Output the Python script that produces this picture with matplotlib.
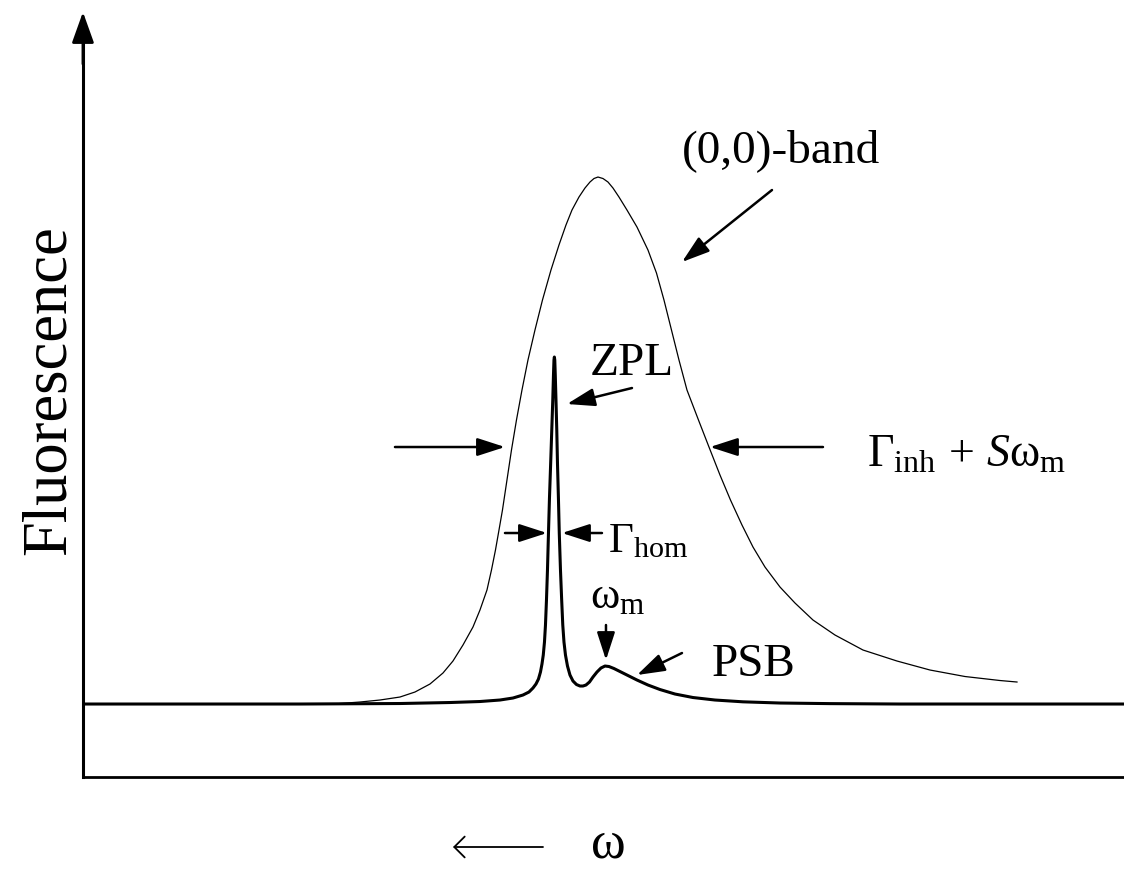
import matplotlib
matplotlib.use("Agg")
import matplotlib.pyplot as plt

plt.rcParams["font.family"] = ["Liberation Serif", "DejaVu Serif"]
plt.rcParams["mathtext.fontset"] = "custom"
plt.rcParams["mathtext.rm"] = "Liberation Serif"
plt.rcParams["mathtext.it"] = "Liberation Serif:italic"
plt.rcParams["mathtext.bf"] = "Liberation Serif:bold"

# Broad inhomogeneous (0,0)-band: frequency (arb. units) and intensity
band_freq = [25.7, 27.7, 29.7, 31.7, 33.2, 34.7, 36.0, 37.0, 38.0, 39.0,
             39.7, 40.4, 40.85, 41.25, 41.55, 41.95, 42.4, 42.85, 43.35, 43.9,
             44.5, 45.2, 45.95, 46.8, 47.6, 48.3, 48.9, 49.6, 50.2, 50.7,
             51.1, 51.5, 52.0, 52.5, 53.0, 53.6, 54.4, 55.4, 56.5, 57.35,
             58.1, 58.85, 59.6, 60.4, 61.55, 62.6, 63.7, 64.75, 65.9, 67.0,
             68.2, 69.7, 71.2, 73.0, 75.2, 78.0, 81.4, 84.7, 88.2, 91.7, 93.4]
band_int = [0.05, 0.2, 0.4, 0.7, 1.2, 2.0, 3.1, 4.3, 5.9, 7.7,
            9.4, 11.4, 13.4, 15.4, 17.1, 19.4, 22.4, 25.4, 28.4, 31.4,
            34.4, 37.4, 40.4, 43.4, 45.9, 47.9, 49.4, 50.7, 51.6, 52.2,
            52.55, 52.7, 52.55, 52.2, 51.6, 50.7, 49.4, 47.7, 45.4, 43.1,
            40.4, 37.4, 34.4, 31.4, 28.4, 25.7, 22.9, 20.4, 17.9, 15.7,
            13.7, 11.7, 10.1, 8.4, 6.9, 5.4, 4.3, 3.4, 2.75, 2.35, 2.2]

# Single-site spectrum: zero-phonon line plus phonon sideband
site_freq = [0.0, 21.7, 31.7, 36.7, 39.7, 41.7, 43.0, 44.0, 44.6, 45.0,
             45.3, 45.55, 45.75, 45.9, 46.03, 46.15, 46.25, 46.35, 46.45, 46.55,
             46.65, 46.77, 46.88, 46.98, 47.05, 47.1, 47.14, 47.18, 47.23, 47.3,
             47.38, 47.45, 47.55, 47.63, 47.75, 47.87, 47.98, 48.1, 48.25, 48.45,
             48.7, 49.0, 49.35, 49.7, 50.0, 50.3, 50.65, 51.0, 51.4, 51.8,
             52.2, 52.6, 53.1, 53.7, 54.5, 55.4, 56.5, 57.7, 59.2, 61.0,
             63.2, 66.0, 69.7, 74.7, 81.7, 104.1]
site_int = [0.0, 0.0, 0.05, 0.15, 0.25, 0.4, 0.6, 0.9, 1.2, 1.6,
            2.0, 2.5, 3.2, 4.0, 4.9, 6.2, 7.9, 10.4, 13.4, 17.1,
            20.6, 24.1, 27.4, 30.4, 32.9, 34.4, 34.7, 34.4, 32.9, 30.4,
            27.4, 24.1, 20.4, 17.1, 13.4, 10.4, 7.9, 6.2, 4.9, 3.8,
            2.9, 2.3, 1.95, 1.8, 1.8, 1.9, 2.2, 2.7, 3.2, 3.6,
            3.8, 3.75, 3.55, 3.25, 2.85, 2.4, 1.9, 1.45, 1.0, 0.65,
            0.4, 0.22, 0.1, 0.04, 0.0, 0.0]

fig = plt.figure(figsize=(11.24, 8.71), dpi=100)
ax = fig.add_axes([0.0738, 0.1079, 0.9262, 0.8783])
ax.set_xlim(0, 104.1)
ax.set_ylim(-7.3, 69.2)

ax.plot(band_freq, band_int, color="black", lw=0.9, solid_joinstyle="round")
ax.plot(site_freq, site_int, color="black", lw=2.2, solid_joinstyle="round",
        solid_capstyle="butt")

# axes: plain x line, y line ending in an arrow head
for side in ("top", "right"):
    ax.spines[side].set_visible(False)
ax.spines["left"].set_linewidth(2.2)
ax.spines["bottom"].set_linewidth(2.0)
ax.spines["left"].set_bounds(-7.3, 66)
ax.set_xticks([])
ax.set_yticks([])
ax.annotate("", xy=(0, 69.2), xytext=(0, 64), xycoords="data",
            arrowprops=dict(arrowstyle="-|>,head_length=1.9,head_width=0.68",
                            lw=2.0, color="black", shrinkA=0, shrinkB=0,
                            mutation_scale=10), annotation_clip=False)


def arrow(tail, tip):
    ax.annotate("", xy=tip, xytext=tail,
                arrowprops=dict(arrowstyle="-|>,head_length=1.7,head_width=0.55",
                                lw=1.8, color="black", shrinkA=0, shrinkB=0,
                                mutation_scale=10))


# (0,0)-band label
ax.text(59.9, 54.2, "(0,0)-band", fontsize=34, ha="left", va="baseline")
arrow((68.9, 51.4), (59.9, 44.2))

# ZPL label
ax.text(50.7, 32.9, "ZPL", fontsize=34, ha="left", va="baseline")
arrow((54.9, 31.6), (48.4, 30.0))

# inhomogeneous width markers
arrow((31.2, 25.7), (42.2, 25.7))
arrow((74.0, 25.7), (62.7, 25.7))
ax.text(78.4, 23.7, r"$\mathrm{\Gamma_{inh}}\,+\,S\mathrm{\omega_{m}}$",
        fontsize=33, ha="left", va="baseline")

# homogeneous width markers
arrow((42.2, 17.1), (46.4, 17.1))
arrow((51.9, 17.1), (47.9, 17.1))
ax.text(52.5, 15.2, r"$\mathrm{\Gamma_{hom}}$", fontsize=31,
        ha="left", va="baseline")

# phonon frequency marker
ax.text(50.7, 9.6, r"$\mathrm{\omega_{m}}$", fontsize=32, ha="left",
        va="baseline")
arrow((52.3, 7.9), (52.3, 4.4))

# phonon sideband
ax.text(62.9, 2.8, "PSB", fontsize=34, ha="left", va="baseline")
arrow((59.9, 5.1), (55.4, 2.9))

# axis titles
fig.text(50 / 1124, 1 - 390 / 871, "Fluorescence", fontsize=45,
         rotation=90, ha="center", va="center")
ax.annotate("", xy=(453 / 1124, 1 - 847 / 871),
            xytext=(543 / 1124, 1 - 847 / 871),
            xycoords="figure fraction", textcoords="figure fraction",
            arrowprops=dict(arrowstyle="->,head_length=0.75,head_width=0.75",
                            lw=1.3, color="black", shrinkA=0, shrinkB=0,
                            mutation_scale=10))
fig.text(607 / 1124, 1 - 868 / 871, r"$\mathrm{\omega}$", fontsize=38,
         ha="center", va="bottom")

fig.savefig("out.png", dpi=100, facecolor="white")
